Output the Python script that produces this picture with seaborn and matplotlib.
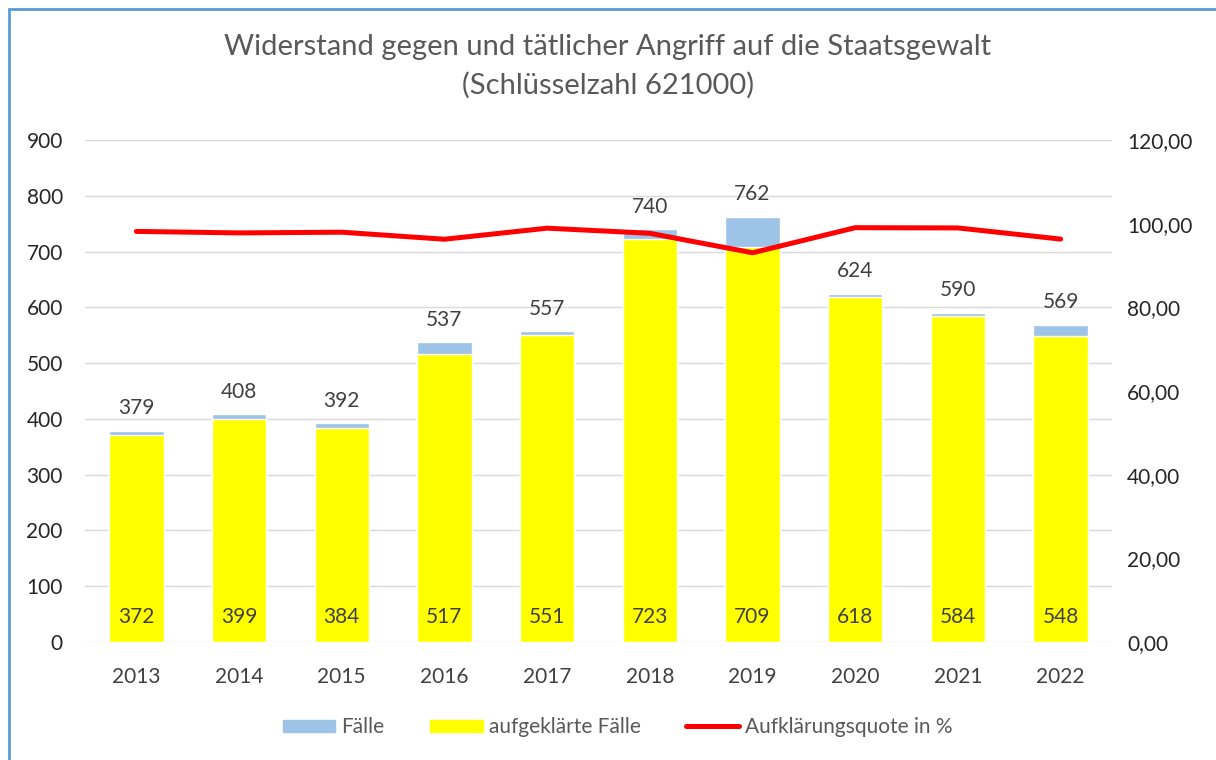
import matplotlib
matplotlib.use("Agg")
import matplotlib.pyplot as plt
import matplotlib.patches as mpatches
from matplotlib.lines import Line2D
from matplotlib.ticker import FuncFormatter
import numpy as np
import pandas as pd
import seaborn as sns

# -------------------------------
# Data
# -------------------------------
years = ["2013", "2014", "2015", "2016", "2017", "2018", "2019", "2020", "2021", "2022"]
faelle = [379, 408, 392, 537, 557, 740, 762, 624, 590, 569]
aufgeklaert = [372, 399, 384, 517, 551, 723, 709, 618, 584, 548]
quote = [98.15, 97.79, 97.96, 96.28, 98.92, 97.70, 93.04, 99.04, 98.98, 96.31]

df = pd.DataFrame({"Jahr": years, "Fälle": faelle,
                   "aufgeklärte Fälle": aufgeklaert,
                   "Aufklärungsquote in %": quote})
df["pos"] = np.arange(len(years))

BLUE = "#9DC3E6"
YELLOW = "#FFFF00"
RED = "#FF0000"
GREY = "#595959"

sns.set_style("white")
plt.rcParams["font.family"] = ["Lato", "DejaVu Sans"]

fig = plt.figure(figsize=(12.16, 7.6), dpi=100)
ax = fig.add_axes([85 / 1216, 1 - 642 / 760, (1112 - 85) / 1216, (642 - 140) / 760])

# -------------------------------
# Bars
# -------------------------------
sns.barplot(data=df, x="Jahr", y="Fälle", color=BLUE, width=0.53,
            saturation=1, ax=ax, zorder=2)
sns.barplot(data=df, x="Jahr", y="aufgeklärte Fälle", color=YELLOW, width=0.53,
            saturation=1, ax=ax, zorder=3)

ax.set_ylim(0, 900)
ax.set_xlim(-0.5, len(years) - 0.5)
ax.set_yticks(range(0, 901, 100))
ax.grid(axis="y", color="#D9D9D9", linewidth=1, zorder=0)
ax.set_axisbelow(True)
ax.set_xlabel("")
ax.set_ylabel("")
for s in ax.spines.values():
    s.set_visible(False)
ax.tick_params(axis="both", length=0, labelsize=15, colors="#404040")
ax.tick_params(axis="y", pad=16)
ax.tick_params(axis="x", pad=18)
for lbl in ax.get_yticklabels():
    lbl.set_color("#262626")

# labels
for i, (f, a) in enumerate(zip(faelle, aufgeklaert)):
    ax.annotate(str(f), (i, f), xytext=(0, 9), textcoords="offset points",
                ha="center", va="bottom", fontsize=15, color="#404040")
    ax.annotate(str(a), (i, 0), xytext=(0, 18), textcoords="offset points",
                ha="center", va="center", fontsize=15, color="#404040", zorder=5)

# -------------------------------
# Line on secondary axis
# -------------------------------
ax2 = ax.twinx()
sns.lineplot(data=df, x="pos", y="Aufklärungsquote in %", color=RED,
             linewidth=3.6, ax=ax2, zorder=4)
ax2.set_ylim(0, 120)
ax2.set_yticks(range(0, 121, 20))
ax2.yaxis.set_major_formatter(FuncFormatter(lambda v, p: f"{v:.2f}".replace(".", ",")))
ax2.set_ylabel("")
ax2.set_xlabel("")
for s in ax2.spines.values():
    s.set_visible(False)
ax2.tick_params(axis="y", length=0, labelsize=15, colors="#262626", pad=11)
ax2.grid(False)

fig.suptitle("Widerstand gegen und tätlicher Angriff auf die Staatsgewalt\n(Schlüsselzahl 621000)",
             y=0.955, fontsize=21, color=GREY, linespacing=1.55)

handles = [mpatches.Patch(color=BLUE, label="Fälle"),
           mpatches.Patch(color=YELLOW, label="aufgeklärte Fälle"),
           Line2D([0], [0], color=RED, linewidth=3.6, label="Aufklärungsquote in %")]
fig.legend(handles=handles, loc="center", bbox_to_anchor=(0.508, 1 - 727 / 760),
           ncol=3, frameon=False, fontsize=15, labelcolor=GREY,
           handlelength=2.5, handleheight=0.5, columnspacing=2.2, handletextpad=0.3)

# outer border
fig.patches.append(mpatches.Rectangle((9 / 1216, -0.05), 1.1, 1.05 - 9 / 760,
                                      transform=fig.transFigure, fill=False,
                                      edgecolor="#5B9BD5", linewidth=2, zorder=10))

fig.savefig("out.png", dpi=100)
plt.close()
